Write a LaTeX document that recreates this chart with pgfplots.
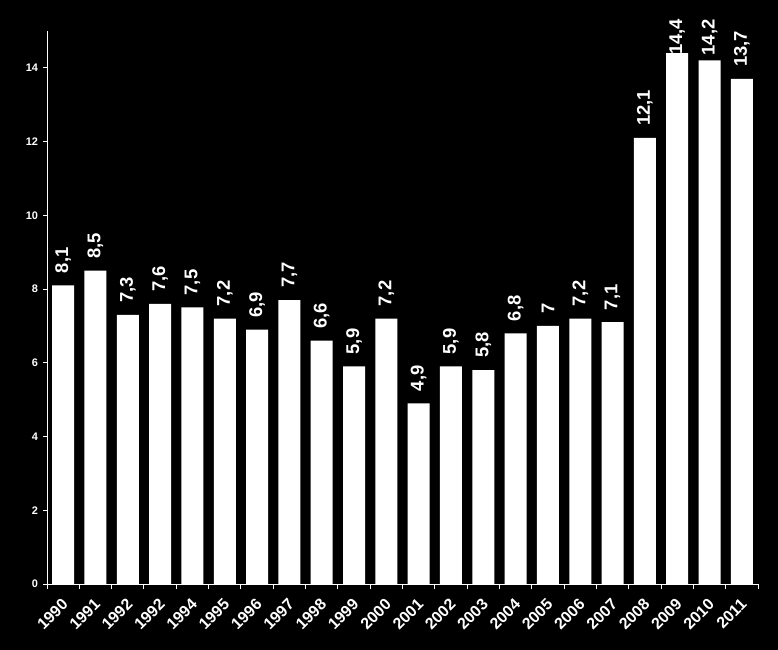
\documentclass[border=0pt]{standalone}
\usepackage{pgfplots}
\pgfplotsset{compat=1.18}
\usepackage{pgfplotstable}
\usepackage{fontspec}
\setmainfont{Liberation Sans}
\pgfplotstableread{
x y lab off
0 8.1 8,1 12
1 8.5 8,5 12
2 7.3 7,3 12
3 7.6 7,6 12
4 7.5 7,5 12
5 7.2 7,2 12
6 6.9 6,9 12
7 7.7 7,7 12
8 6.6 6,6 12
9 5.9 5,9 12
10 7.2 7,2 12
11 4.9 4,9 12
12 5.9 5,9 12
13 5.8 5,8 12
14 6.8 6,8 12
15 7.0 7 12
16 7.2 7,2 12
17 7.1 7,1 12
18 12.1 12,1 12
19 14.4 14,4 -2
20 14.2 14,2 5
21 13.7 13,7 12
}\datatable
\begin{document}
\begin{tikzpicture}
\path[use as bounding box, fill=black] (0,0) rectangle (778bp,650bp);
\begin{axis}[
  at={(47bp,66bp)}, anchor=south west,
  scale only axis, width=711bp, height=553bp,
  ymin=0, ymax=15, xmin=-0.5, xmax=21.5,
  axis x line*=bottom, axis y line*=left,
  axis line style={white, line width=1bp, -},
  clip=false,
  ybar, bar width=22bp,
  xtick={0,...,21},
  xticklabels={1990,1991,1992,1992,1994,1995,1996,1997,1998,1999,2000,2001,2002,2003,2004,2005,2006,2007,2008,2009,2010,2011},
  minor xtick={-0.5,0.5,...,21.5},
  major x tick style={draw=none},
  minor x tick style={white, line width=1bp},
  minor tick length=5bp,
  ytick={0,2,...,14},
  major y tick style={white, line width=1bp},
  major tick length=3.5bp,
  tick align=outside,
  xticklabel style={yshift=-14bp, xshift=2bp, rotate=45, anchor=east, white, font=\fontsize{16}{16}\selectfont\bfseries, inner sep=0pt},
  yticklabel style={white, font=\fontsize{11}{11}\selectfont\bfseries, xshift=-2bp},
  /pgf/number format/assume math mode=true,
  nodes near coords,
  point meta=explicit symbolic,
  visualization depends on={\thisrow{off} \as \labeloff},
  every node near coord/.append style={yshift=\labeloff*1bp, rotate=90, anchor=west, inner sep=0pt, white, font=\fontsize{18.5}{18.5}\selectfont\bfseries},
]
\addplot[fill=white, draw=none] table[x=x, y=y, meta=lab] {\datatable};
\end{axis}
\end{tikzpicture}
\end{document}
